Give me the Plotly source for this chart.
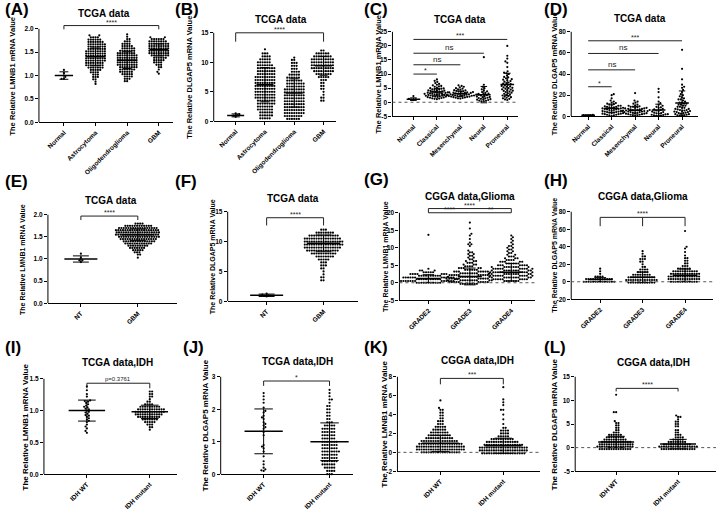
import numpy as np
import plotly.graph_objects as go

W, H = 720, 515
FONT = "Arial, Liberation Sans, sans-serif"


def expand(levels, counts):
    vals = []
    for v, c in zip(levels, counts):
        vals.extend([v] * c)
    return vals

# ======================= DATA =======================
# (A) TCGA LMNB1 by histology
A_cats = ["Normal", "Astrocytoma", "Oligodendroglioma", "GBM"]
A_normal = [0.93, 0.93, 0.97, 1.05, 1.12]
A_astro_lv = [0.82, 0.87, 0.92, 0.97, 1.02, 1.07, 1.12, 1.17, 1.22, 1.27, 1.32, 1.37, 1.42, 1.47, 1.52, 1.57, 1.62, 1.67, 1.72, 1.77, 1.82, 1.86]
A_astro_ct = [1, 1, 2, 3, 3, 4, 5, 7, 8, 8, 9, 9, 9, 9, 9, 8, 8, 8, 7, 6, 4, 2]
A_oligo_lv = [0.88, 0.93, 0.98, 1.03, 1.08, 1.13, 1.18, 1.23, 1.28, 1.33, 1.38, 1.43, 1.48, 1.53, 1.58, 1.63, 1.68, 1.73, 1.78, 1.83, 1.88]
A_oligo_ct = [2, 3, 4, 5, 6, 7, 8, 9, 9, 9, 9, 9, 8, 7, 6, 5, 4, 3, 2, 1, 1]
A_gbm_lv = [1.04, 1.08, 1.13, 1.18, 1.23, 1.28, 1.33, 1.38, 1.43, 1.48, 1.53, 1.58, 1.63, 1.68, 1.73, 1.78, 1.82]
A_gbm_ct = [1, 1, 1, 2, 3, 4, 5, 6, 8, 9, 9, 9, 9, 9, 8, 6, 2]
A_means = [1.0, 1.40, 1.33, 1.55]
A_sds = [0.08, 0.19, 0.18, 0.13]

# (B) TCGA DLGAP5 by histology
B_cats = ["Normal", "Astrocytoma", "Oligodendroglioma", "GBM"]
B_normal = [0.75, 0.95, 1.05, 1.2, 1.35]
B_astro_lv = [0.5, 1.0, 1.5, 2.0, 2.5, 3.0, 3.5, 4.0, 4.5, 5.0, 5.5, 6.0, 6.5, 7.0, 7.5, 8.0, 8.5, 9.0, 9.5, 10.0, 10.5, 11.0, 11.5, 12.2]
B_astro_ct = [5, 6, 6, 7, 7, 8, 8, 9, 9, 9, 9, 9, 9, 9, 9, 8, 8, 8, 7, 6, 5, 4, 3, 1]
B_oligo_lv = [0.4, 0.9, 1.4, 1.9, 2.4, 2.9, 3.4, 3.9, 4.4, 4.9, 5.4, 5.9, 6.4, 6.9, 7.4, 7.9, 8.4, 8.9, 9.4, 9.9, 10.4, 10.8]
B_oligo_ct = [6, 8, 9, 9, 9, 9, 9, 9, 9, 9, 9, 8, 8, 7, 6, 5, 4, 3, 3, 3, 2, 1]
B_gbm_lv = [3.5, 4.0, 4.5, 5.0, 5.5, 6.0, 6.5, 7.0, 7.5, 8.0, 8.5, 9.0, 9.5, 10.0, 10.5, 11.0, 11.5, 12.0]
B_gbm_ct = [2, 2, 1, 1, 2, 2, 2, 3, 5, 7, 9, 10, 10, 10, 10, 8, 6, 2]
B_means = [1.0, 6.2, 4.8, 9.4]
B_sds = [0.25, 2.9, 2.4, 1.6]

# (C) TCGA LMNB1 by subtype
C_cats = ["Normal", "Classical", "Mesenchymal", "Neural", "Proneural"]
C_normal = [0.8, 0.9, 1.0, 1.2, 2.2]
C_classical = [1.1, 1.2, 1.3, 1.4, 1.5, 1.6, 1.7, 1.8, 1.9, 2.0, 2.0, 2.1, 2.2, 2.3, 2.3, 2.4, 2.5, 2.6, 2.6, 2.7, 2.8, 2.9, 3.0, 3.0, 3.1, 3.2, 3.3, 3.4, 3.5, 3.5, 3.6, 3.7, 3.8, 3.9, 4.0, 4.1, 4.2, 4.3, 4.4, 4.5, 4.6, 4.8, 4.9, 5.0, 5.2, 5.5, 5.6, 5.8, 6.0, 6.2, 6.5, 6.8, 7.2, 7.6, 8.1]
C_mesenchymal = [1.3, 1.4, 1.5, 1.6, 1.7, 1.8, 1.9, 2.0, 2.0, 2.1, 2.2, 2.2, 2.3, 2.3, 2.4, 2.4, 2.5, 2.5, 2.6, 2.6, 2.7, 2.7, 2.8, 2.8, 2.9, 2.9, 3.0, 3.0, 3.1, 3.2, 3.3, 3.3, 3.4, 3.5, 3.5, 3.6, 3.7, 3.8, 3.9, 4.0, 4.2, 4.3, 4.5, 4.6, 4.8, 5.0, 5.3, 5.5, 5.8, 6.0]
C_neural = [0.2, 0.3, 0.5, 0.6, 0.8, 0.9, 1.0, 1.1, 1.2, 1.4, 1.5, 1.6, 1.8, 1.9, 2.0, 2.2, 2.4, 2.5, 2.7, 2.9, 3.1, 3.3, 3.6, 3.9, 4.2, 4.6, 5.0, 5.5, 6.2, 16.0]
C_proneural = [0.8, 1.0, 1.2, 1.4, 1.6, 1.8, 2.0, 2.2, 2.4, 2.6, 2.8, 3.0, 3.2, 3.4, 3.6, 3.8, 4.0, 4.1, 4.3, 4.5, 4.6, 4.8, 5.0, 5.1, 5.3, 5.5, 5.6, 5.8, 6.0, 6.2, 6.4, 6.6, 6.8, 7.0, 7.3, 7.5, 7.8, 8.0, 8.2, 8.5, 8.8, 9.0, 9.5, 10.0, 10.3, 10.5, 11.0, 12.5, 14.0, 14.5, 15.5, 16.5, 20.0]
C_means = [1.1, 3.6, 3.0, 2.7, 6.3]
C_sds = [0.45, 1.3, 1.0, 2.9, 4.0]

# (D) TCGA DLGAP5 by subtype
D_cats = ["Normal", "Classical", "Mesenchymal", "Neural", "Proneural"]
D_normal = [0.6, 0.8, 1.0, 1.2, 1.5]
D_classical = [0.5, 1, 1, 1.5, 1.5, 2, 2, 2.5, 2.5, 3, 3, 3.5, 3.5, 4, 4, 4.5, 4.5, 5, 5, 5.5, 5.5, 6, 6, 6.5, 6.5, 7, 7, 7.5, 7.5, 8, 8, 8.5, 8.5, 9, 9, 9.5, 10, 10, 10.5, 11, 11.5, 12, 12.5, 13, 14, 15, 17, 20, 21]
D_mesenchymal = [0.5, 1, 1, 1.5, 1.5, 2, 2, 2.5, 2.5, 3, 3, 3.5, 3.5, 4, 4, 4, 4.5, 4.5, 5, 5, 5, 5.5, 5.5, 6, 6, 6, 6.5, 6.5, 7, 7, 7.5, 7.5, 8, 8, 8.5, 9, 9, 9.5, 10, 10.5, 11, 12, 13, 14, 15, 22]
D_neural = [0.3, 0.5, 0.8, 1, 1.2, 1.5, 1.8, 2, 2.5, 2.8, 3, 3.5, 4, 4.5, 5, 5.5, 6, 6.5, 7, 8, 8.5, 9, 10, 11, 12.5, 14, 18, 23, 26]
D_proneural = [0.5, 0.5, 1, 1, 1.5, 2, 2, 2.5, 3, 3, 3.5, 4, 4, 4.5, 5, 5, 5.5, 6, 6, 6.5, 7, 7, 8, 8, 9, 9, 10, 10, 11, 11, 12, 12, 13, 13, 14, 15, 16, 16, 17, 18, 19, 20, 21, 23, 25, 27, 28, 30, 35, 45, 63]
D_means = [1.0, 7.7, 5.8, 6.0, 12.6]
D_sds = [0.3, 3.9, 3.6, 5.5, 11.4]

# (E) TCGA LMNB1 NT vs GBM
E_cats = ["NT", "GBM"]
E_nt = [0.93, 0.97, 0.97, 1.03, 1.12]
E_gbm_lv = [1.03, 1.10, 1.15, 1.20, 1.25, 1.30, 1.35, 1.40, 1.45, 1.50, 1.55, 1.60, 1.65, 1.70, 1.75, 1.80]
E_gbm_ct = [1, 2, 3, 5, 7, 9, 12, 14, 16, 18, 19, 19, 19, 17, 12, 4]
E_means = [1.0, 1.55]
E_sds = [0.07, 0.13]

# (F) TCGA DLGAP5 NT vs GBM
F_cats = ["NT", "GBM"]
F_nt = [0.8, 0.9, 1.0, 1.1, 1.3]
F_gbm_lv = [3.5, 4.0, 4.5, 5.0, 5.5, 6.0, 6.5, 7.0, 7.5, 8.0, 8.5, 9.0, 9.5, 10.0, 10.5, 11.0, 11.5, 12.0]
F_gbm_ct = [2, 2, 1, 1, 2, 3, 3, 5, 8, 11, 14, 16, 17, 17, 16, 13, 8, 3]
F_means = [1.0, 9.7]
F_sds = [0.2, 1.4]

# (G) CGGA LMNB1 by grade
G_cats = ["GRADE2", "GRADE3", "GRADE4"]
G_g2_lv = [0.0, 0.5, 1.0, 1.5, 2.0, 2.5, 3.0, 3.5, 4.0, 13.7]
G_g2_ct = [11, 13, 13, 12, 10, 7, 5, 3, 1, 1]
G_g3_lv = [-0.3, 0.2, 0.7, 1.2, 1.7, 2.2, 2.7, 3.2, 3.7, 4.2, 4.7, 5.2, 5.7, 6.2, 6.7, 7.2, 7.7, 8.2, 8.7, 9.2, 10.5, 11.0, 11.5, 12.5, 13.5, 14.0, 15.5, 17.2]
G_g3_ct = [8, 10, 11, 11, 10, 10, 9, 8, 6, 5, 4, 3, 3, 3, 2, 2, 2, 2, 2, 1, 1, 2, 1, 1, 1, 1, 1, 1]
G_g4_lv = [0.5, 1.0, 1.5, 2.0, 2.5, 3.0, 3.5, 4.0, 4.5, 5.0, 5.5, 6.0, 6.5, 7.0, 7.5, 8.0, 8.5, 9.0, 9.5, 10.0, 10.5, 11.0, 11.5, 12.0, 12.5, 13.0, 13.5]
G_g4_ct = [7, 9, 10, 11, 11, 11, 10, 10, 9, 7, 6, 5, 4, 3, 3, 2, 2, 2, 2, 2, 2, 1, 1, 1, 1, 1, 1]
G_means = [1.2, 1.8, 3.0]
G_sds = [1.1, 2.4, 2.5]

# (H) CGGA DLGAP5 by grade
H_cats = ["GRADE2", "GRADE3", "GRADE4"]
H_g2_lv = [0, 3, 6, 9, 12, 15]
H_g2_ct = [14, 12, 4, 1, 1, 1]
H_g3_lv = [-1, 2, 5, 8, 11, 14, 17, 20, 23, 26, 29, 32, 35]
H_g3_ct = [12, 14, 12, 8, 5, 4, 2, 1, 2, 3, 2, 1, 1]
H_g4_lv = [0, 3, 6, 9, 12, 15, 18, 21, 24, 27, 30, 34, 38, 40, 58]
H_g4_ct = [12, 14, 14, 13, 11, 6, 3, 2, 2, 2, 1, 1, 1, 1, 1]
H_means = [2.5, 5.0, 7.5]
H_sds = [2.2, 6.0, 7.0]

# (I) TCGA LMNB1 by IDH
I_cats = ["IDH WT", "IDH mutant"]
I_wt = [0.65, 0.68, 0.72, 0.75, 0.78, 0.82, 0.84, 0.86, 0.88, 0.90, 0.92, 0.93, 0.95, 0.97, 0.98, 1.0, 1.02, 1.03, 1.05, 1.06, 1.08, 1.10, 1.12, 1.14, 1.15, 1.16, 1.22, 1.26, 1.32, 1.38]
I_mut_lv = [0.70, 0.74, 0.78, 0.82, 0.86, 0.90, 0.94, 0.98, 1.02, 1.06, 1.10, 1.14, 1.18, 1.22, 1.26, 1.30]
I_mut_ct = [1, 2, 3, 5, 7, 10, 12, 13, 12, 9, 4, 2, 1, 2, 2, 2]
I_means = [1.0, 0.98]
I_sds = [0.165, 0.105]

# (J) TCGA DLGAP5 by IDH
J_cats = ["IDH WT", "IDH mutant"]
J_wt = [0.1, 0.12, 0.15, 0.2, 0.3, 0.4, 0.55, 0.7, 0.8, 0.85, 0.9, 1.2, 1.3, 1.4, 1.45, 1.5, 1.55, 1.6, 1.7, 1.75, 1.8, 1.9, 1.95, 2.05, 2.2, 2.3, 2.4, 2.5]
J_mut_lv = [0.0, 0.1, 0.2, 0.3, 0.4, 0.5, 0.6, 0.7, 0.8, 0.9, 1.0, 1.1, 1.2, 1.3, 1.4, 1.5, 1.6, 1.7, 1.8, 1.9, 2.0, 2.1, 2.2, 2.3, 2.4, 2.5, 2.6]
J_mut_ct = [3, 4, 5, 6, 7, 7, 7, 8, 7, 7, 7, 6, 6, 6, 6, 5, 3, 2, 2, 2, 2, 2, 1, 2, 1, 1, 1]
J_means = [1.32, 1.0]
J_sds = [0.69, 0.58]

# (K) CGGA LMNB1 by IDH
K_cats = ["IDH WT", "IDH mutant"]
K_wt_lv = [0.0, 0.3, 0.6, 0.9, 1.2, 1.5, 1.8, 2.1, 2.4, 2.7, 3.0, 3.3, 3.6, 3.9, 4.2, 4.5, 4.7, 5.5]
K_wt_ct = [17, 21, 21, 19, 16, 12, 10, 8, 6, 5, 3, 3, 2, 2, 2, 2, 1, 1]
K_mut_lv = [-0.1, 0.2, 0.5, 0.8, 1.1, 1.4, 1.7, 2.0, 2.3, 2.6, 3.0, 3.5, 4.0, 4.5, 5.0, 5.3, 5.6, 6.9]
K_mut_ct = [19, 21, 21, 17, 14, 10, 5, 4, 4, 2, 1, 1, 1, 2, 1, 1, 1, 1]
K_means = [0.95, 0.7]
K_sds = [0.85, 0.8]

# (L) CGGA DLGAP5 by IDH
L_cats = ["IDH WT", "IDH mutant"]
L_wt_lv = [-0.3, 0.2, 0.7, 1.2, 1.7, 2.2, 2.7, 3.2, 3.7, 4.2, 4.7, 5.2, 5.6, 7.5, 11.2]
L_wt_ct = [14, 16, 15, 13, 10, 8, 6, 3, 2, 2, 2, 2, 1, 2, 1]
L_mut_lv = [-0.3, 0.2, 0.7, 1.2, 1.7, 2.2, 2.7, 3.2, 3.7, 4.5, 5.0, 5.5, 6.0, 6.5, 6.8]
L_mut_ct = [15, 17, 12, 8, 5, 4, 3, 2, 2, 2, 2, 2, 1, 2, 1]
L_means = [1.2, 0.75]
L_sds = [1.2, 1.0]

# Axis ticks
TICKS_2 = [0, 0.5, 1.0, 1.5, 2.0]
TICKS_15 = [0, 5, 10, 15]
TICKS_C = [-5, 0, 5, 10, 15, 20, 25]
TICKS_D = [0, 20, 40, 60, 80]
TICKS_G = [-5, 0, 5, 10, 15, 20]
TICKS_H = [-20, 0, 20, 40, 60, 80]
TICKS_I = [0, 0.5, 1.0, 1.5]
TICKS_J = [0, 1, 2, 3]
TICKS_K = [-2, 0, 2, 4, 6, 8]
TICKS_L = [-5, 0, 5, 10, 15]

YT_LMNB1 = "The Relative LMNB1 mRNA Value"
YT_DLGAP5 = "The Relative DLGAP5 mRNA Value"

# brackets: (group from, group to, line level, drop level or None, label, middle drop)
panels = [
    dict(key="A", title="TCGA data", ytitle=YT_LMNB1, cats=A_cats,
         groups=[A_normal, expand(A_astro_lv, A_astro_ct), expand(A_oligo_lv, A_oligo_ct), expand(A_gbm_lv, A_gbm_ct)],
         means=A_means, sds=A_sds, yr=[0, 2], ticks=TICKS_2, fmt="{:.1f}", zero=False,
         brackets=[(0, 3, 2.07, 1.99, "****", False)]),
    dict(key="B", title="TCGA data", ytitle=YT_DLGAP5, cats=B_cats,
         groups=[B_normal, expand(B_astro_lv, B_astro_ct), expand(B_oligo_lv, B_oligo_ct), expand(B_gbm_lv, B_gbm_ct)],
         means=B_means, sds=B_sds, yr=[0, 15], ticks=TICKS_15, fmt="{:.0f}", zero=False,
         brackets=[(0, 3, 15.0, 13.5, "****", False)]),
    dict(key="C", title="TCGA data", ytitle=YT_LMNB1, cats=C_cats,
         groups=[C_normal, C_classical, C_mesenchymal, C_neural, C_proneural],
         means=C_means, sds=C_sds, yr=[-5, 25], ticks=TICKS_C, fmt="{:.0f}", zero=True,
         brackets=[(0, 1, 10.0, None, "*", False), (0, 2, 13.3, None, "ns", False),
                   (0, 3, 17.4, None, "ns", False), (0, 4, 22.3, None, "***", False)]),
    dict(key="D", title="TCGA data", ytitle=YT_DLGAP5, cats=D_cats,
         groups=[D_normal, D_classical, D_mesenchymal, D_neural, D_proneural],
         means=D_means, sds=D_sds, yr=[0, 80], ticks=TICKS_D, fmt="{:.0f}", zero=False,
         brackets=[(0, 1, 28, None, "*", False), (0, 2, 44, None, "ns", False),
                   (0, 3, 59.5, None, "ns", False), (0, 4, 71.5, None, "***", False)]),
    dict(key="E", title="TCGA data", ytitle=YT_LMNB1, cats=E_cats,
         groups=[E_nt, expand(E_gbm_lv, E_gbm_ct)],
         means=E_means, sds=E_sds, yr=[0, 2], ticks=TICKS_2, fmt="{:.1f}", zero=False,
         brackets=[(0, 1, 1.97, 1.88, "****", False)]),
    dict(key="F", title="TCGA data", ytitle=YT_DLGAP5, cats=F_cats,
         groups=[F_nt, expand(F_gbm_lv, F_gbm_ct)],
         means=F_means, sds=F_sds, yr=[0, 15], ticks=TICKS_15, fmt="{:.0f}", zero=False,
         brackets=[(0, 1, 14.0, 12.7, "****", False)]),
    dict(key="G", title="CGGA data,Glioma", ytitle=YT_LMNB1, cats=G_cats,
         groups=[expand(G_g2_lv, G_g2_ct), expand(G_g3_lv, G_g3_ct), expand(G_g4_lv, G_g4_ct)],
         means=G_means, sds=G_sds, yr=[-5, 20], ticks=TICKS_G, fmt="{:.0f}", zero=True,
         brackets=[(0, 2, 21.2, 20.0, "****", False), (0, 1, 20.0, None, "****", False),
                   (1, 2, 20.0, None, "**", False)]),
    dict(key="H", title="CGGA data,Glioma", ytitle=YT_DLGAP5, cats=H_cats,
         groups=[expand(H_g2_lv, H_g2_ct), expand(H_g3_lv, H_g3_ct), expand(H_g4_lv, H_g4_ct)],
         means=H_means, sds=H_sds, yr=[-20, 80], ticks=TICKS_H, fmt="{:.0f}", zero=True,
         brackets=[(0, 2, 73.6, 63.5, "****", True)]),
    dict(key="I", title="TCGA data,IDH", ytitle=YT_LMNB1, cats=I_cats,
         groups=[I_wt, expand(I_mut_lv, I_mut_ct)],
         means=I_means, sds=I_sds, yr=[0, 1.5], ticks=TICKS_I, fmt="{:.1f}", zero=False,
         brackets=[(0, 1, 1.43, 1.35, "p=0.3761", False)]),
    dict(key="J", title="TCGA data,IDH", ytitle=YT_DLGAP5, cats=J_cats,
         groups=[J_wt, expand(J_mut_lv, J_mut_ct)],
         means=J_means, sds=J_sds, yr=[0, 3], ticks=TICKS_J, fmt="{:.0f}", zero=False,
         brackets=[(0, 1, 2.87, 2.72, "*", False)]),
    dict(key="K", title="CGGA data,IDH", ytitle=YT_LMNB1, cats=K_cats,
         groups=[expand(K_wt_lv, K_wt_ct), expand(K_mut_lv, K_mut_ct)],
         means=K_means, sds=K_sds, yr=[-2, 8], ticks=TICKS_K, fmt="{:.0f}", zero=True,
         brackets=[(0, 1, 7.83, 7.2, "***", False)]),
    dict(key="L", title="CGGA data,IDH", ytitle=YT_DLGAP5, cats=L_cats,
         groups=[expand(L_wt_lv, L_wt_ct), expand(L_mut_lv, L_mut_ct)],
         means=L_means, sds=L_sds, yr=[-5, 15], ticks=TICKS_L, fmt="{:.0f}", zero=True,
         brackets=[(0, 1, 12.55, 11.9, "****", False)]),
]

# ======================= LAYOUT (pixel geometry of each panel) =======================
geom = {
    "A": dict(left=38, right=172, top=29, bottom=123, c0=63, c1=158, lab=(2, 10), tit=(103, 14), yt=12, ytf=7.5),
    "B": dict(left=213, right=335, top=33, bottom=122, c0=235, c1=323, lab=(172, 10), tit=(280, 20), yt=188, ytf=7.5),
    "C": dict(left=392, right=518, top=32, bottom=117, c0=413, c1=507, lab=(362, 10), tit=(460, 20), yt=378, ytf=7.5),
    "D": dict(left=571, right=698, top=32, bottom=117, c0=588, c1=682, lab=(542, 10), tit=(640, 19), yt=554, ytf=7.5),
    "E": dict(left=47, right=176, top=216, bottom=305, c0=80, c1=137, lab=(2, 183), tit=(110, 202), yt=22, ytf=7.0),
    "F": dict(left=227, right=357, top=213, bottom=303, c0=266, c1=323, lab=(172, 183), tit=(292, 200), yt=212, ytf=7.0),
    "G": dict(left=399, right=535, top=214, bottom=302, c0=428, c1=511, lab=(362, 181), tit=(470, 198), yt=385, ytf=7.0),
    "H": dict(left=571, right=713, top=213, bottom=301, c0=600, c1=685, lab=(542, 182), tit=(643, 198), yt=554, ytf=7.0),
    "I": dict(left=43, right=176, top=381, bottom=477, c0=86, c1=149, lab=(2, 350), tit=(117, 365), yt=25, ytf=8.0),
    "J": dict(left=220, right=352, top=379, bottom=477, c0=263, c1=329, lab=(180, 350), tit=(297, 364), yt=205, ytf=8.0),
    "K": dict(left=397, right=540, top=379, bottom=474, c0=440, c1=503, lab=(362, 350), tit=(477, 363), yt=384, ytf=8.0),
    "L": dict(left=575, right=716, top=379, bottom=474, c0=616, c1=678, lab=(542, 350), tit=(653, 365), yt=554, ytf=8.0),
}
EXT = 14      # px of room above top tick for brackets
DOT = 2.2     # marker size px
GAP = 2.35    # collision distance px for swarm


def swarm(vals, ppu_y, ppu_x, d=GAP):
    vals = np.asarray(vals, float)
    order = np.argsort(vals, kind="stable")
    placed = []
    offs = np.zeros(len(vals))
    for j, idx in enumerate(order):
        y = vals[idx] * ppu_y
        near = [(xp, yp) for xp, yp in placed if abs(yp - y) < d]
        cands = [0.0]
        for xp, yp in near:
            dx = np.sqrt(max(d * d - (yp - y) ** 2, 0))
            cands += [xp + dx, xp - dx]
        sgn = 1 if j % 2 == 0 else -1
        cands.sort(key=lambda c: (round(abs(c), 4), -sgn * c))
        chosen = 0.0
        for c in cands:
            if all((c - xp) ** 2 + (y - yp) ** 2 >= d * d - 1e-6 for xp, yp in near):
                chosen = c
                break
        placed.append((chosen, y))
        offs[idx] = chosen / ppu_x
    return offs


fig = go.Figure()
shapes, annos = [], []
layout_axes = {}

for k, p in enumerate(panels):
    g = geom[p["key"]]
    n = k + 1
    sfx = "" if n == 1 else str(n)
    xa, ya = "x" + sfx, "y" + sfx
    ncat = len(p["cats"])
    spacing = (g["c1"] - g["c0"]) / (ncat - 1)
    xr = [(g["left"] - g["c0"]) / spacing, (g["right"] - g["c0"]) / spacing]
    ymin, ymax = p["yr"]
    ppu_y = (g["bottom"] - g["top"]) / (ymax - ymin)
    ytop = ymax + EXT / ppu_y
    xdom = [g["left"] / W, g["right"] / W]
    ydom = [1 - g["bottom"] / H, 1 - (g["top"] - EXT) / H]

    layout_axes["xaxis" + sfx] = dict(
        domain=xdom, range=xr, anchor=ya, showgrid=False, zeroline=False,
        showline=True, linecolor="black", linewidth=1, ticks="outside", ticklen=3,
        tickcolor="black", tickwidth=1, tickvals=list(range(ncat)),
        ticktext=["<b>%s</b>" % c for c in p["cats"]], tickangle=-45,
        tickfont=dict(family=FONT, size=6.5, color="black"), fixedrange=True)
    layout_axes["yaxis" + sfx] = dict(
        domain=ydom, range=[ymin, ytop], anchor=xa, showgrid=False, zeroline=False,
        showline=False, ticks="outside", ticklen=3, tickcolor="black", tickwidth=1,
        tickvals=p["ticks"], ticktext=["<b>%s</b>" % p["fmt"].format(t) for t in p["ticks"]],
        tickfont=dict(family=FONT, size=6.5, color="black"), fixedrange=True)

    # y axis line only between min and max tick
    shapes.append(dict(type="line", xref=xa + " domain", yref=ya, x0=0, x1=0, y0=ymin, y1=ymax,
                       line=dict(color="black", width=1)))
    if p["zero"]:
        shapes.append(dict(type="line", xref=xa + " domain", yref=ya, x0=0, x1=1, y0=0, y1=0,
                           line=dict(color="#555", width=1, dash="dot")))

    # dots
    for i, vals in enumerate(p["groups"]):
        offs = swarm(vals, ppu_y, spacing)
        fig.add_trace(go.Scatter(
            x=i + offs, y=vals, mode="markers", xaxis=xa, yaxis=ya,
            marker=dict(size=DOT, color="black", line=dict(width=0)),
            cliponaxis=False, showlegend=False, hoverinfo="y"))

    # mean +/- SD
    mx, my, sx, sy = [], [], [], []
    for i, (m, s) in enumerate(zip(p["means"], p["sds"])):
        mx += [i - 0.29, i + 0.29, None]
        my += [m, m, None]
        sx += [i, i, None, i - 0.14, i + 0.14, None, i - 0.14, i + 0.14, None]
        sy += [m - s, m + s, None, m + s, m + s, None, m - s, m - s, None]
    fig.add_trace(go.Scatter(x=sx, y=sy, mode="lines", xaxis=xa, yaxis=ya,
                             line=dict(color="black", width=1), showlegend=False, hoverinfo="skip"))
    fig.add_trace(go.Scatter(x=mx, y=my, mode="lines", xaxis=xa, yaxis=ya,
                             line=dict(color="black", width=1.5), showlegend=False, hoverinfo="skip"))

    # significance brackets
    bx, by = [], []
    for (i0, i1, yl, yd, lab, mid) in p["brackets"]:
        if yd is None:
            bx += [i0, i1, None]
            by += [yl, yl, None]
        else:
            bx += [i0, i0, i1, i1, None]
            by += [yd, yl, yl, yd, None]
            if mid:
                bx += [(i0 + i1) / 2, (i0 + i1) / 2, None]
                by += [yl, yd, None]
        star = lab.startswith("*")
        annos.append(dict(xref=xa, yref=ya, x=(i0 + i1) / 2, y=yl, text=lab, showarrow=False,
                          yanchor="bottom", yshift=-2 if star else -1,
                          font=dict(family=FONT, size=7 if star else (8 if lab == "ns" else 6), color="#222")))
    fig.add_trace(go.Scatter(x=bx, y=by, mode="lines", xaxis=xa, yaxis=ya,
                             line=dict(color="#222", width=1), showlegend=False, hoverinfo="skip"))

    # texts
    annos.append(dict(xref="paper", yref="paper", x=g["lab"][0] / W, y=1 - g["lab"][1] / H,
                      xanchor="left", yanchor="middle", showarrow=False,
                      text="<b>(%s)</b>" % p["key"], font=dict(family=FONT, size=17, color="black")))
    annos.append(dict(xref="paper", yref="paper", x=g["tit"][0] / W, y=1 - g["tit"][1] / H,
                      xanchor="center", yanchor="middle", showarrow=False,
                      text="<b>%s</b>" % p["title"], font=dict(family=FONT, size=10, color="black")))
    annos.append(dict(xref="paper", yref="paper", x=g["yt"] / W, y=1 - (g["top"] + g["bottom"]) / 2 / H,
                      xanchor="center", yanchor="middle", showarrow=False, textangle=-90,
                      text="<b>%s</b>" % p["ytitle"], font=dict(family=FONT, size=g["ytf"], color="black")))

fig.update_layout(width=W, height=H, autosize=False, margin=dict(l=0, r=0, t=0, b=0),
                  paper_bgcolor="white", plot_bgcolor="white", showlegend=False,
                  shapes=shapes, annotations=annos, **layout_axes)

fig.write_html("out.html", config={"displayModeBar": False, "staticPlot": True},
               post_script="document.body.style.margin='0px';")
